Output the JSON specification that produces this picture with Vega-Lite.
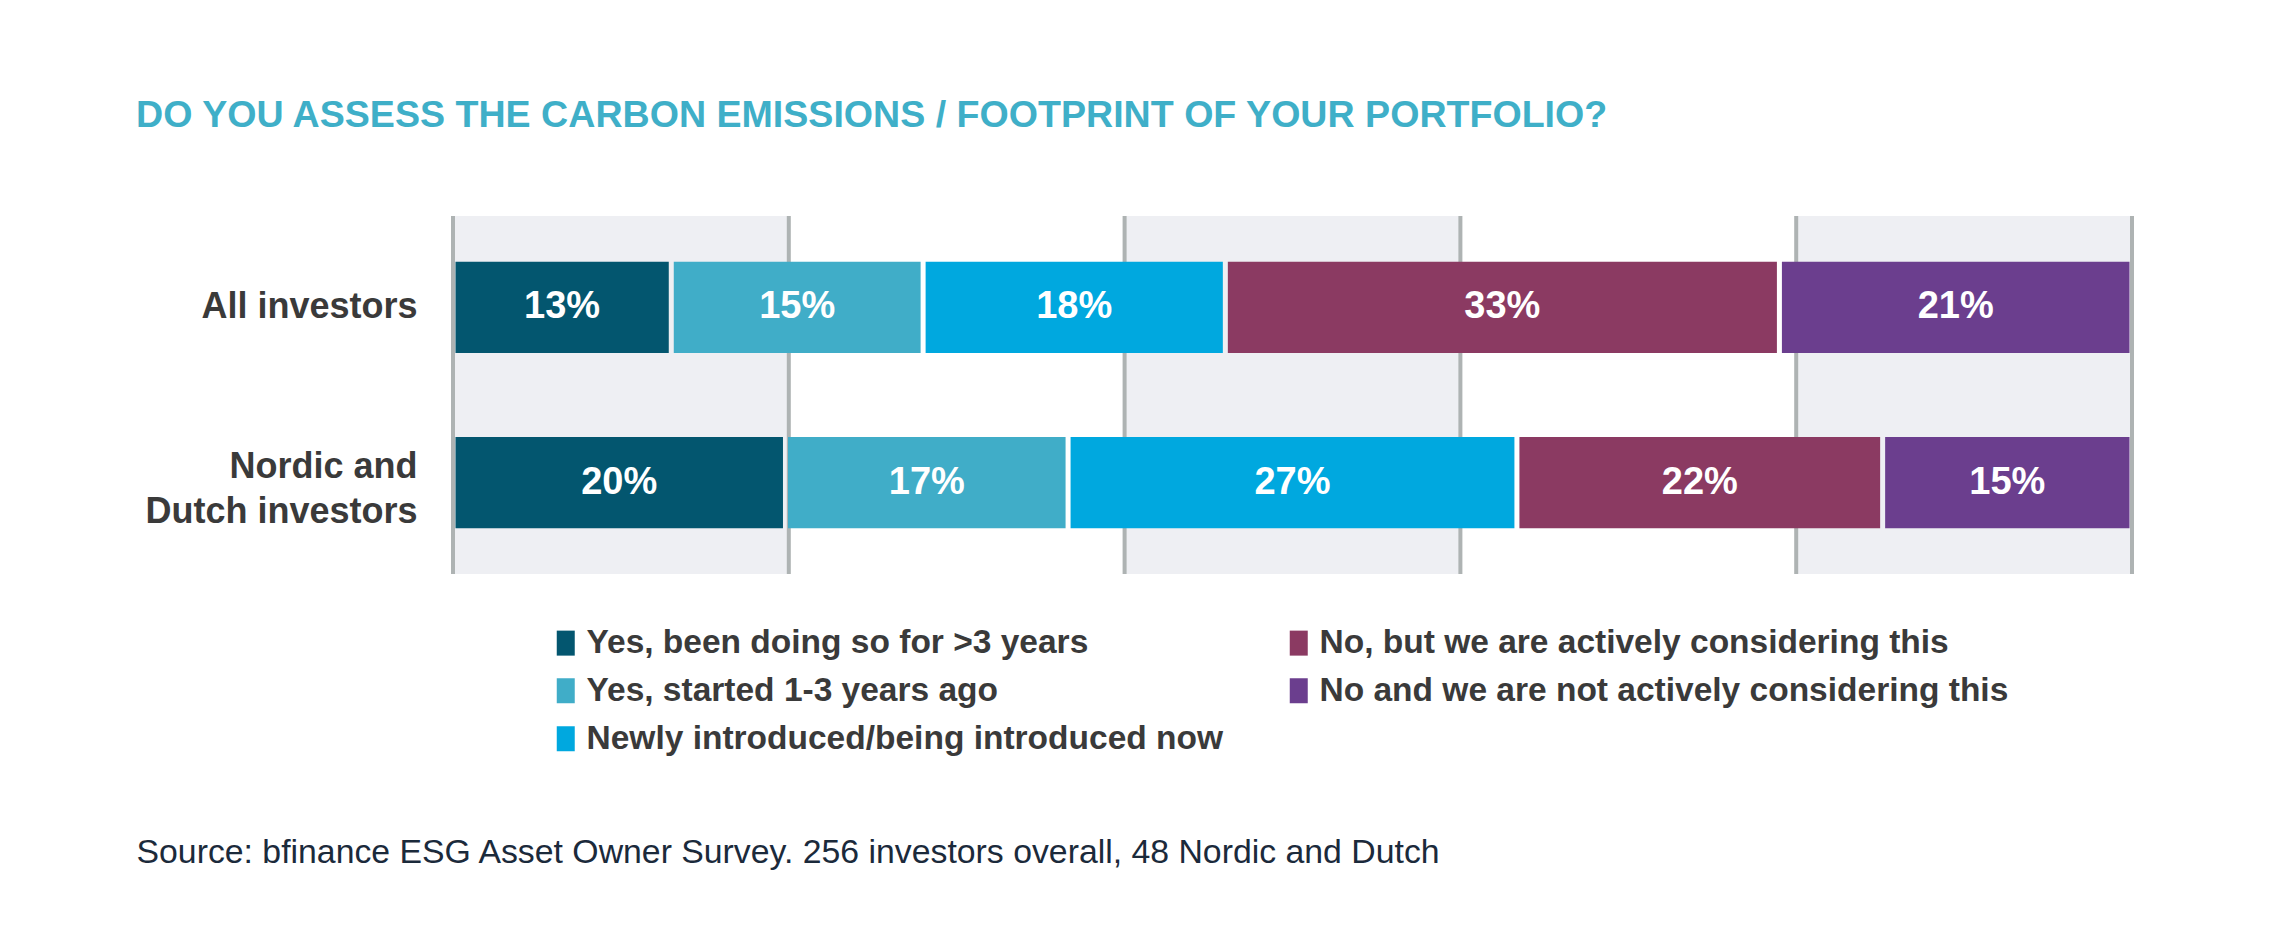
{
  "$schema": "https://vega.github.io/schema/vega-lite/v6.json",
  "width": 1679,
  "height": 358,
  "autosize": {"type": "none"},
  "padding": {"left": 453, "top": 216, "right": 159, "bottom": 371},
  "background": "white",
  "title": {
    "text": "DO YOU ASSESS THE CARBON EMISSIONS / FOOTPRINT OF YOUR PORTFOLIO?",
    "anchor": "start",
    "frame": "group",
    "dx": -317,
    "offset": 79,
    "fontSize": 37.6,
    "fontWeight": "bold",
    "color": "#3fafc8",
    "font": "Liberation Sans"
  },
  "config": {
    "view": {"stroke": null},
    "font": "Liberation Sans",
    "axisX": {
      "labels": false,
      "ticks": false,
      "domain": false,
      "grid": false,
      "titleX": -317,
      "titleY": 278,
      "titleAlign": "left",
      "titleBaseline": "middle",
      "titleFontSize": 33.8,
      "titleFontWeight": "normal",
      "titleColor": "#1b2a3b",
      "titleFont": "Liberation Sans"
    },
    "axisY": {
      "domain": false,
      "ticks": false,
      "grid": false,
      "labelFontSize": 36,
      "labelFontWeight": "bold",
      "labelColor": "#3a3a3a",
      "labelPadding": 36,
      "labelLineHeight": 45,
      "labelLimit": 500,
      "labelFont": "Liberation Sans"
    }
  },
  "datasets": {
    "answers": [
      {"group": "All investors", "answer": "Yes, been doing so for >3 years", "rank": 1, "share": 0.13},
      {"group": "All investors", "answer": "Yes, started 1-3 years ago", "rank": 2, "share": 0.15},
      {"group": "All investors", "answer": "Newly introduced/being introduced now", "rank": 3, "share": 0.18},
      {"group": "All investors", "answer": "No, but we are actively considering this", "rank": 4, "share": 0.33},
      {"group": "All investors", "answer": "No and we are not actively considering this", "rank": 5, "share": 0.21},
      {"group": "Nordic and Dutch investors", "answer": "Yes, been doing so for >3 years", "rank": 1, "share": 0.20},
      {"group": "Nordic and Dutch investors", "answer": "Yes, started 1-3 years ago", "rank": 2, "share": 0.17},
      {"group": "Nordic and Dutch investors", "answer": "Newly introduced/being introduced now", "rank": 3, "share": 0.27},
      {"group": "Nordic and Dutch investors", "answer": "No, but we are actively considering this", "rank": 4, "share": 0.22},
      {"group": "Nordic and Dutch investors", "answer": "No and we are not actively considering this", "rank": 5, "share": 0.15}
    ],
    "bands": [
      {"from": 0, "to": 0.2},
      {"from": 0.4, "to": 0.6},
      {"from": 0.8, "to": 1}
    ],
    "gridlines": [
      {"at": 0}, {"at": 0.2}, {"at": 0.4}, {"at": 0.6}, {"at": 0.8}, {"at": 1}
    ]
  },
  "layer": [
    {
      "data": {"name": "bands"},
      "mark": {"type": "rect", "color": "#eeeff3"},
      "encoding": {
        "x": {"field": "from", "type": "quantitative", "title": "Source: bfinance ESG Asset Owner Survey. 256 investors overall, 48 Nordic and Dutch", "scale": {"domain": [0, 1], "nice": false, "zero": false}},
        "x2": {"field": "to"}
      }
    },
    {
      "data": {"name": "gridlines"},
      "mark": {"type": "rule", "color": "#aeb3b3", "strokeWidth": 4},
      "encoding": {
        "x": {"field": "at", "type": "quantitative", "title": "Source: bfinance ESG Asset Owner Survey. 256 investors overall, 48 Nordic and Dutch"}
      }
    },
    {
      "data": {"name": "answers"},
      "transform": [
        {"stack": "share", "groupby": ["group"], "offset": "normalize", "sort": [{"field": "rank", "order": "ascending"}], "as": ["s0", "s1"]}
      ],
      "mark": {"type": "bar", "xOffset": 2.5, "x2Offset": -2.5},
      "encoding": {
        "y": {
          "field": "group", "type": "nominal", "title": null,
          "sort": ["All investors", "Nordic and Dutch investors"],
          "scale": {"paddingInner": 0.48, "paddingOuter": 0.26},
          "axis": {
            "labelExpr": "datum.value == 'Nordic and Dutch investors' ? ['Nordic and', 'Dutch investors'] : datum.value",
            "labelOffset": {"condition": {"test": "datum.value == 'Nordic and Dutch investors'", "value": -16}, "value": 0}
          }
        },
        "x": {"field": "s0", "type": "quantitative", "title": "Source: bfinance ESG Asset Owner Survey. 256 investors overall, 48 Nordic and Dutch"},
        "x2": {"field": "s1"},
        "color": {
          "field": "answer", "type": "nominal",
          "scale": {
            "domain": ["Yes, been doing so for >3 years", "Yes, started 1-3 years ago", "Newly introduced/being introduced now", "No, but we are actively considering this", "No and we are not actively considering this"],
            "range": ["#03566f", "#40adc8", "#00a8df", "#8b3a62", "#6b3e8e"]
          },
          "legend": {
            "orient": "none",
            "legendX": 96,
            "legendY": 410,
            "columns": 2,
            "title": null,
            "padding": 0,
            "symbolType": "M-0.72,-1H0.72V1H-0.72Z",
            "symbolSize": 625,
            "symbolStrokeWidth": 0,
            "symbolOpacity": 1,
            "labelFontSize": 33.5,
            "labelFontWeight": "bold",
            "labelColor": "#3a3a3a",
            "labelFont": "Liberation Sans",
            "labelLimit": 1000,
            "labelOffset": 4,
            "columnPadding": 58,
            "rowPadding": 13
          }
        }
      }
    },
    {
      "data": {"name": "answers"},
      "mark": {"type": "text", "color": "white", "fontSize": 38, "fontWeight": "bold", "baseline": "middle", "align": "center"},
      "encoding": {
        "y": {
          "field": "group", "type": "nominal", "title": null,
          "sort": ["All investors", "Nordic and Dutch investors"],
          "scale": {"paddingInner": 0.48, "paddingOuter": 0.26}
        },
        "x": {"field": "share", "type": "quantitative", "stack": "normalize", "bandPosition": 0.5, "title": "Source: bfinance ESG Asset Owner Survey. 256 investors overall, 48 Nordic and Dutch"},
        "detail": {"field": "answer", "type": "nominal"},
        "order": {"field": "rank", "type": "quantitative", "sort": "ascending"},
        "text": {"field": "share", "type": "quantitative", "format": ".0%"}
      }
    }
  ]
}
